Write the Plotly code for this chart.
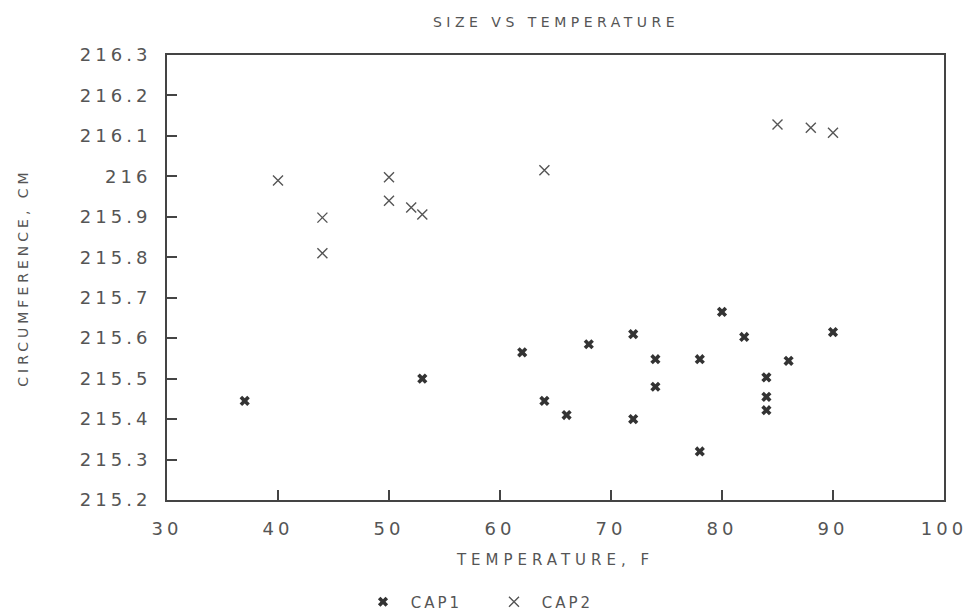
import plotly.graph_objects as go

# ---- data ----
cap1_temp = [37, 53, 62, 64, 66, 68, 72, 72, 74, 74, 78, 78, 80, 82, 84, 84, 84, 86, 90]
cap1_circ = [215.445, 215.50, 215.565, 215.445, 215.41, 215.585, 215.61, 215.40, 215.548, 215.48,
             215.548, 215.32, 215.665, 215.603, 215.503, 215.455, 215.422, 215.544, 215.615]
cap2_temp = [40, 44, 44, 50, 50, 52, 53, 64, 85, 88, 90]
cap2_circ = [215.99, 215.898, 215.81, 215.998, 215.94, 215.923, 215.906, 216.015, 216.128, 216.12, 216.108]

x_ticks = [30, 40, 50, 60, 70, 80, 90, 100]
x_tick_labels = ["30", "40", "50", "60", "70", "80", "90", "100"]
y_ticks = [215.2, 215.3, 215.4, 215.5, 215.6, 215.7, 215.8, 215.9, 216.0, 216.1, 216.2, 216.3]
y_tick_labels = ["215.2", "215.3", "215.4", "215.5", "215.6", "215.7", "215.8", "215.9",
                 "216", "216.1", "216.2", "216.3"]

TXT = "#555555"
AX = "#444444"
FONT = "DejaVu Sans"


def sp(s, ls):
    return f'<span style="letter-spacing:{ls}px">{s}</span>'


fig = go.Figure()
fig.add_trace(go.Scatter(
    x=cap1_temp, y=cap1_circ, mode="markers", name=sp(" CAP1", 3),
    marker=dict(symbol="x", size=9, color="#333333", line=dict(width=0)),
))
fig.add_trace(go.Scatter(
    x=cap2_temp, y=cap2_circ, mode="markers", name=sp(" CAP2", 3),
    marker=dict(symbol="x-thin-open", size=10, color="#555555", line=dict(width=1.4, color="#555555")),
))

fig.update_layout(
    width=969, height=611,
    margin=dict(l=167, r=25, t=55, b=111, autoexpand=False),
    paper_bgcolor="white", plot_bgcolor="white",
    font=dict(family=FONT, color=TXT, size=14),
    title=dict(text=sp("SIZE VS TEMPERATURE", 4.5), x=556 / 969, xanchor="center",
               y=1 - 22 / 611, yanchor="middle", font=dict(size=14, color=TXT)),
    showlegend=True,
    legend=dict(orientation="h", x=(494 - 167) / 777, xanchor="center",
                y=(500 - 602) / 445, yanchor="middle", entrywidth=86,
                font=dict(size=15, color=TXT), bgcolor="rgba(0,0,0,0)"),
    xaxis=dict(
        range=[30, 100], tickvals=x_ticks, ticktext=[sp(t, 4) for t in x_tick_labels],
        ticks="inside", ticklen=10, tickwidth=1.5, tickcolor=AX,
        showline=True, linecolor=AX, linewidth=2, mirror=True,
        showgrid=False, zeroline=False,
        tickfont=dict(size=18, color=TXT), ticklabelstandoff=11,
        title=dict(text=sp("TEMPERATURE, F", 5), font=dict(size=15, color=TXT), standoff=17),
    ),
    yaxis=dict(
        range=[215.2, 216.3], tickvals=y_ticks, ticktext=[sp(t, 4) for t in y_tick_labels],
        ticks="inside", ticklen=10, tickwidth=1.5, tickcolor=AX,
        showline=True, linecolor=AX, linewidth=2, mirror=True,
        showgrid=False, zeroline=False,
        tickfont=dict(size=18, color=TXT), ticklabelstandoff=10,
        title=dict(text=sp("CIRCUMFERENCE, CM", 4), font=dict(size=14, color=TXT), standoff=48),
    ),
)

fig.write_html("out.html")
